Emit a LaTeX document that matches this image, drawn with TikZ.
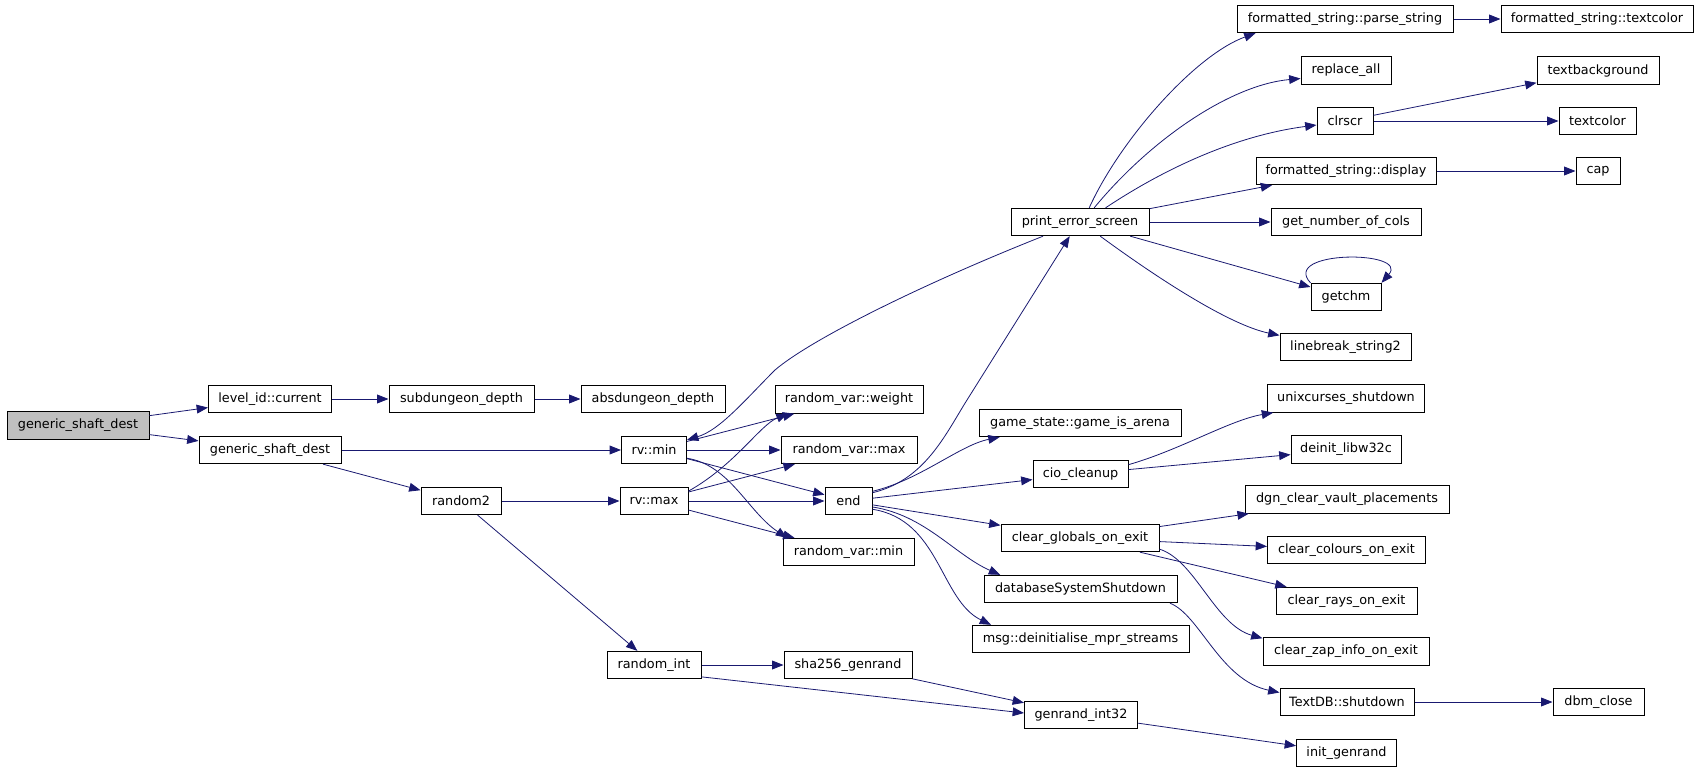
\documentclass[tikz,border=0pt]{standalone}
\usepackage{fontspec}
\setmainfont{DejaVu Sans}
\usetikzlibrary{arrows.meta}
\definecolor{edgecol}{RGB}{25,25,112}
\definecolor{rootfill}{RGB}{191,191,191}
\begin{document}
\begin{tikzpicture}[x=0.75pt,y=-0.75pt,
  box/.style={draw=black,line width=0.75pt,rectangle,minimum height=20.5pt,inner sep=0pt,font=\fontsize{9.6}{11}\selectfont},
  bw/.style={minimum width=#1*0.75pt},
  edge/.style={draw=edgecol,line width=0.6pt,-{Triangle[length=8.5pt,width=6.6pt]}}]
\useasboundingbox (0,0) rectangle (1699,771);
% rank 0-3
\node[box,bw=142,fill=rootfill] (root) at (78,425.5) {generic\_shaft\_dest};
\node[box,bw=123] (lid) at (270,399) {level\_id::current};
\node[box,bw=142] (gsd) at (270,450) {generic\_shaft\_dest};
\node[box,bw=145] (sub) at (461.5,399) {subdungeon\_depth};
\node[box,bw=80] (r2) at (461,501) {random2};
\node[box,bw=144] (abs) at (653,399) {absdungeon\_depth};
\node[box,bw=65] (rvmin) at (654,450) {rv::min};
\node[box,bw=68] (rvmax) at (654,501) {rv::max};
\node[box,bw=94] (ri) at (654,665) {random\_int};
% rank 4
\node[box,bw=148] (wt) at (849,399.5) {random\_var::weight};
\node[box,bw=136] (vmax) at (849,450) {random\_var::max};
\node[box,bw=47] (endn) at (848.5,501) {end};
\node[box,bw=131] (vmin) at (848.5,552) {random\_var::min};
\node[box,bw=128] (sha) at (848,665) {sha256\_genrand};
% rank 5
\node[box,bw=138] (pes) at (1080,222) {print\_error\_screen};
\node[box,bw=202] (gs) at (1080,423) {game\_state::game\_is\_arena};
\node[box,bw=95] (cio) at (1080.5,474) {cio\_cleanup};
\node[box,bw=158] (cg) at (1080,538) {clear\_globals\_on\_exit};
\node[box,bw=193] (db) at (1080.5,589) {databaseSystemShutdown};
\node[box,bw=217] (msg) at (1080.5,639) {msg::deinitialise\_mpr\_streams};
\node[box,bw=113] (g32) at (1081,715) {genrand\_int32};
% rank 6
\node[box,bw=216] (ps) at (1345,19) {formatted\_string::parse\_string};
\node[box,bw=90] (ra) at (1346,70.5) {replace\_all};
\node[box,bw=56] (clr) at (1345,121) {clrscr};
\node[box,bw=180] (disp) at (1346,171) {formatted\_string::display};
\node[box,bw=150] (gnc) at (1346,222) {get\_number\_of\_cols};
\node[box,bw=70] (gc) at (1346,297) {getchm};
\node[box,bw=131] (lb) at (1345.5,347) {linebreak\_string2};
\node[box,bw=157] (ux) at (1346,398.5) {unixcurses\_shutdown};
\node[box,bw=110] (dl) at (1346,449.5) {deinit\_libw32c};
\node[box,bw=204] (dgn) at (1347,499.5) {dgn\_clear\_vault\_placements};
\node[box,bw=158] (cc) at (1346.5,550) {clear\_colours\_on\_exit};
\node[box,bw=141] (cr) at (1346.5,601) {clear\_rays\_on\_exit};
\node[box,bw=166] (cz) at (1346,651.5) {clear\_zap\_info\_on\_exit};
\node[box,bw=134] (tdb) at (1347,702) {TextDB::shutdown};
\node[box,bw=100] (ig) at (1346.5,753) {init\_genrand};
% rank 7
\node[box,bw=192] (ftc) at (1597,19) {formatted\_string::textcolor};
\node[box,bw=122] (tb) at (1598,70.5) {textbackground};
\node[box,bw=77] (tc) at (1597.5,121) {textcolor};
\node[box,bw=44] (cap) at (1598,171) {cap};
\node[box,bw=91] (dbm) at (1598.5,702) {dbm\_close};
% straight edges
\draw[edge] (root) -- (lid);
\draw[edge] (root) -- (gsd);
\draw[edge] (lid) -- (sub);
\draw[edge] (sub) -- (abs);
\draw[edge] (gsd) -- (rvmin);
\draw[edge] (gsd) -- (r2);
\draw[edge] (r2) -- (rvmax);
\draw[edge] (r2) -- (ri);
\draw[edge] (rvmin) -- (wt);
\draw[edge] (rvmin) -- (vmax);
\draw[edge] (rvmin) -- (endn);
\draw[edge] (rvmax) -- (vmax);
\draw[edge] (rvmax) -- (endn);
\draw[edge] (rvmax) -- (vmin);
\draw[edge] (endn) -- (cio);
\draw[edge] (endn) -- (cg);
\draw[edge] (pes) -- (disp);
\draw[edge] (pes) -- (gnc);
\draw[edge] (pes) -- (gc);
\draw[edge] (ps) -- (ftc);
\draw[edge] (clr) -- (tb);
\draw[edge] (clr) -- (tc);
\draw[edge] (disp) -- (cap);
\draw[edge] (cio) -- (dl);
\draw[edge] (cg) -- (dgn);
\draw[edge] (cg) -- (cc);
\draw[edge] (cg) -- (cr);
\draw[edge] (tdb) -- (dbm);
\draw[edge] (ri) -- (sha);
\draw[edge] (ri.-14) -- (g32.178);
\draw[edge] (sha) -- (g32);
\draw[edge] (g32) -- (ig);
% curved edges
\draw[edge] (rvmin.-14) .. controls (730,465) and (748,512) .. (vmin.167);
\draw[edge] (pes.201) .. controls (920,285) and (810,340) .. (775,370) .. controls (745,400) and (720,430) .. (rvmin.17);
\draw[edge] (rvmax.16) .. controls (735,465) and (760,425) .. (wt.193);
\draw[edge] (endn.19) .. controls (925,480) and (945,435) .. (967,400) -- (pes.234);
\draw[edge] (endn.22) .. controls (920,480) and (960,445) .. (gs.190);
\draw[edge] (endn.-14) .. controls (925,515) and (955,555) .. (db.170);
\draw[edge] (endn.-19) .. controls (940,520) and (940,600) .. (msg.171);
\draw[edge] (pes.57) .. controls (1120,140) and (1195,55) .. (ps.189);
\draw[edge] (pes.45) .. controls (1150,140) and (1230,85) .. (ra.190);
\draw[edge] (pes.29) .. controls (1170,165) and (1240,135) .. (clr.188);
\draw[edge] (pes.-35) .. controls (1160,280) and (1230,325) .. (lb.170);
\draw[edge] (gc.north west) .. controls (1280,250) and (1410,250) .. (gc.north east);
\draw[edge] (cio.11) .. controls (1180,450) and (1230,420) .. (ux.191);
\draw[edge] (cg.-8) .. controls (1195,560) and (1215,625) .. (cz.171);
\draw[edge] (db.-9) .. controls (1200,615) and (1220,680) .. (tdb.172);
\end{tikzpicture}
\end{document}
